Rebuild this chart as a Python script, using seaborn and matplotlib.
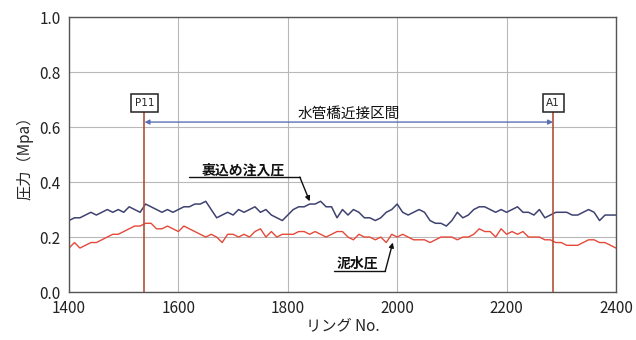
import numpy as np
import pandas as pd
import matplotlib
matplotlib.use("Agg")
import matplotlib.pyplot as plt
import seaborn as sns

rings = list(range(1400, 2401, 10))
grout = [0.26, 0.27, 0.27, 0.28, 0.29, 0.28, 0.29, 0.30, 0.29, 0.30,
         0.29, 0.31, 0.30, 0.29, 0.32, 0.31, 0.30, 0.29, 0.30, 0.29,
         0.30, 0.31, 0.31, 0.32, 0.32, 0.33, 0.30, 0.27, 0.28, 0.29,
         0.28, 0.30, 0.29, 0.30, 0.31, 0.29, 0.30, 0.28, 0.27, 0.26,
         0.28, 0.30, 0.31, 0.31, 0.32, 0.32, 0.33, 0.31, 0.31, 0.27,
         0.30, 0.28, 0.30, 0.29, 0.27, 0.27, 0.26, 0.27, 0.29, 0.30,
         0.32, 0.29, 0.28, 0.29, 0.30, 0.29, 0.26, 0.25, 0.25, 0.24,
         0.26, 0.29, 0.27, 0.28, 0.30, 0.31, 0.31, 0.30, 0.29, 0.30,
         0.29, 0.30, 0.31, 0.29, 0.29, 0.28, 0.30, 0.27, 0.28, 0.29,
         0.29, 0.29, 0.28, 0.28, 0.29, 0.30, 0.29, 0.26, 0.28, 0.28,
         0.28]
slurry = [0.16, 0.18, 0.16, 0.17, 0.18, 0.18, 0.19, 0.20, 0.21, 0.21,
          0.22, 0.23, 0.24, 0.24, 0.25, 0.25, 0.23, 0.23, 0.24, 0.23,
          0.22, 0.24, 0.23, 0.22, 0.21, 0.20, 0.21, 0.20, 0.18, 0.21,
          0.21, 0.20, 0.21, 0.20, 0.22, 0.23, 0.20, 0.22, 0.20, 0.21,
          0.21, 0.21, 0.22, 0.22, 0.21, 0.22, 0.21, 0.20, 0.21, 0.22,
          0.22, 0.20, 0.19, 0.21, 0.20, 0.20, 0.19, 0.20, 0.18, 0.21,
          0.20, 0.21, 0.20, 0.19, 0.19, 0.19, 0.18, 0.19, 0.20, 0.20,
          0.20, 0.19, 0.20, 0.20, 0.21, 0.23, 0.22, 0.22, 0.20, 0.23,
          0.21, 0.22, 0.21, 0.22, 0.20, 0.20, 0.20, 0.19, 0.19, 0.18,
          0.18, 0.17, 0.17, 0.17, 0.18, 0.19, 0.19, 0.18, 0.18, 0.17,
          0.16]
markers_x = [1538, 2285]
markers_lbl = ["P11", "A1"]
xticks = [1400, 1600, 1800, 2000, 2200, 2400]
yticks = [0.0, 0.2, 0.4, 0.6, 0.8, 1.0]

sns.set_style("white")
plt.rcParams['font.family'] = ['Noto Sans CJK JP', 'DejaVu Sans']

df = pd.DataFrame({"ring": rings, "grout": grout, "slurry": slurry})

fig = plt.figure(figsize=(6.36, 3.4), dpi=100)
ax = fig.add_axes([0.1085, 0.141, 0.86, 0.809])

sns.lineplot(data=df, x="ring", y="grout", ax=ax, color="#3f4270", lw=1.1)
sns.lineplot(data=df, x="ring", y="slurry", ax=ax, color="#e5493a", lw=1.0)

ax.set_xlim(1400, 2400)
ax.set_ylim(0, 1.0)
ax.set_xticks(xticks)
ax.set_yticks(yticks)
ax.set_yticklabels([f"{v:.1f}" for v in yticks])
ax.grid(True, color="#b8b8b8", lw=0.8)
ax.set_axisbelow(True)
for s in ax.spines.values():
    s.set_color("#555555")
    s.set_linewidth(1.0)
ax.tick_params(axis="both", labelsize=11, length=0, pad=6, colors="#222222")

ax.set_xlabel("リング No.", fontsize=11, labelpad=0)
ax.set_ylabel("圧力（Mpa）", fontsize=11, labelpad=4)

for mx, lbl in zip(markers_x, markers_lbl):
    ax.axvline(mx, color="#b0503c", lw=1.2, ymax=0.685, zorder=3)
    ax.text(mx, 0.687, lbl, ha="center", va="center", fontsize=7.5,
            family=["DejaVu Sans"],
            bbox=dict(boxstyle="square,pad=0.35", fc="white", ec="#222222", lw=1.1),
            zorder=4)

ax.annotate("", xy=(markers_x[0], 0.618), xytext=(markers_x[1], 0.618),
            arrowprops=dict(arrowstyle="<|-|>", color="#5a72b5", lw=1.0,
                            mutation_scale=7, shrinkA=0, shrinkB=0))
ax.text(1912, 0.648, "水管橋近接区間", ha="center", va="center", fontsize=10.5,
        color="#111111")

# grout label
ax.text(1719, 0.443, "裏込め注入圧", ha="center", va="center", fontsize=10,
        fontweight="bold", color="#111111")
ax.plot([1620, 1822], [0.418, 0.418], color="#111111", lw=1.0)
ax.annotate("", xy=(1840, 0.33), xytext=(1822, 0.418),
            arrowprops=dict(arrowstyle="-|>", color="#111111", lw=1.0,
                            mutation_scale=7, shrinkA=0, shrinkB=0))

# slurry label
ax.text(1928, 0.103, "泥水圧", ha="center", va="center", fontsize=10,
        fontweight="bold", color="#111111")
ax.plot([1885, 1978], [0.075, 0.075], color="#111111", lw=1.0)
ax.annotate("", xy=(1992, 0.18), xytext=(1978, 0.075),
            arrowprops=dict(arrowstyle="-|>", color="#111111", lw=1.0,
                            mutation_scale=7, shrinkA=0, shrinkB=0))

fig.savefig("out.png", dpi=100)
